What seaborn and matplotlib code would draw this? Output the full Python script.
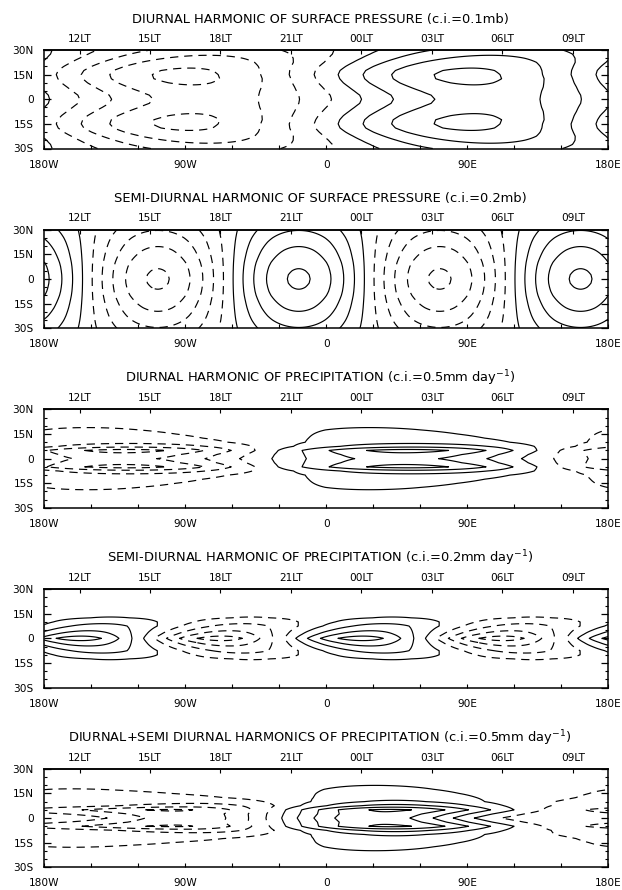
import numpy as np
import matplotlib
matplotlib.use("Agg")
import matplotlib.pyplot as plt
import seaborn as sns

sns.set_theme(style="ticks", rc={"axes.edgecolor": "black", "xtick.color": "black",
                                 "ytick.color": "black", "text.color": "black"})
plt.rcParams["font.family"] = ["DejaVu Sans"]

# Latitudes (deg, northern half) at which the harmonic profiles are tabulated;
# the southern half is the mirror image.
LAT_NODES = [0, 2.5, 5, 7.5, 10, 12.5, 15, 17.5, 20, 22.5, 25, 27.5, 30]

# Diurnal harmonic of surface pressure: amplitude (mb), longitude of maximum (deg)
PS_DIURNAL_AMP = [0.30, 0.305, 0.32, 0.34, 0.36, 0.375, 0.375, 0.365, 0.34, 0.31, 0.275, 0.24, 0.20]
PS_DIURNAL_LONMAX = [103, 102, 99, 96, 93, 91, 90, 91, 94, 98, 102, 106, 109.5]

# Semi-diurnal harmonic of surface pressure
PS_SEMI_AMP = [0.93, 0.925, 0.91, 0.89, 0.86, 0.82, 0.78, 0.74, 0.695, 0.65, 0.60, 0.545, 0.49]
PS_SEMI_LONMAX = [-17.5] * 13

# Diurnal harmonic of precipitation (mm/day)
PR_DIURNAL_AMP = [1.4, 1.6, 1.95, 1.1, 0.6, 0.45, 0.36, 0.29, 0.22, 0.16, 0.12, 0.09, 0.07]
PR_DIURNAL_LONMAX = [45, 48, 52, 56, 52, 45, 38, 30, 25, 22, 20, 20, 20]

# Semi-diurnal harmonic of precipitation (mm/day)
PR_SEMI_AMP = [0.80, 0.62, 0.48, 0.37, 0.25, 0.11, 0.06, 0.04, 0.03, 0.02, 0.02, 0.02, 0.02]
PR_SEMI_LONMAX = [22, 25, 29, 35, 39, 42, 42, 42, 42, 42, 42, 42, 42]

TITLES = [
    "DIURNAL HARMONIC OF SURFACE PRESSURE (c.i.=0.1mb)",
    "SEMI-DIURNAL HARMONIC OF SURFACE PRESSURE (c.i.=0.2mb)",
    "DIURNAL HARMONIC OF PRECIPITATION (c.i.=0.5mm day$^{-1}$)",
    "SEMI-DIURNAL HARMONIC OF PRECIPITATION (c.i.=0.2mm day$^{-1}$)",
    "DIURNAL+SEMI DIURNAL HARMONICS OF PRECIPITATION (c.i.=0.5mm day$^{-1}$)",
]
CONTOUR_INTERVALS = [0.1, 0.2, 0.5, 0.2, 0.5]

LON_TICKS = [-180, -90, 0, 90, 180]
LON_LABELS = ["180W", "90W", "0", "90E", "180E"]
LAT_TICKS = [30, 15, 0, -15, -30]
LAT_LABELS = ["30N", "15N", "0", "15S", "30S"]
LT_LONS = [-157.5, -112.5, -67.5, -22.5, 22.5, 67.5, 112.5, 157.5]
LT_LABELS = ["12LT", "15LT", "18LT", "21LT", "00LT", "03LT", "06LT", "09LT"]


def mirror(values, odd=False):
    v = np.asarray(values, dtype=float)
    south = -v[::-1] if odd else v[::-1]
    return np.concatenate([south, v[1:]])


lat = mirror(LAT_NODES, odd=True)
lon = np.arange(-180.0, 180.01, 1.0)


def harmonic(amp, lonmax, wavenumber):
    a = mirror(amp)[:, None]
    p = mirror(lonmax)[:, None]
    return a * np.cos(np.deg2rad(wavenumber * (lon[None, :] - p)))


pr1 = harmonic(PR_DIURNAL_AMP, PR_DIURNAL_LONMAX, 1)
pr2 = harmonic(PR_SEMI_AMP, PR_SEMI_LONMAX, 2)
fields = [
    harmonic(PS_DIURNAL_AMP, PS_DIURNAL_LONMAX, 1),
    harmonic(PS_SEMI_AMP, PS_SEMI_LONMAX, 2),
    pr1,
    pr2,
    pr1 + pr2,
]

W, H = 622, 890
fig = plt.figure(figsize=(W / 100, H / 100), dpi=100)
fig.patch.set_facecolor("white")

LEFT, WIDTH, TOP0, STEP, HEIGHT = 44.3, 563.7, 50.0, 179.7, 98.5
DASH = (0, (7, 5))

for i, (field, ci, title) in enumerate(zip(fields, CONTOUR_INTERVALS, TITLES)):
    top = TOP0 + STEP * i
    ax = fig.add_axes([LEFT / W, 1 - (top + HEIGHT) / H, WIDTH / W, HEIGHT / H])
    ax.set_facecolor("white")
    n = int(np.ceil(np.abs(field).max() / ci)) + 1
    levels = ci * (np.arange(-n, n) + 0.5)
    styles = [DASH if lv < 0 else "solid" for lv in levels]
    ax.contour(lon, lat, field, levels=levels, colors="black",
               linewidths=0.85, linestyles=styles)

    ax.set_xlim(-180, 180)
    ax.set_ylim(-30, 30)
    for s in ax.spines.values():
        s.set_linewidth(1.1)
        s.set_color("black")

    ax.set_xticks(LON_TICKS)
    ax.set_xticklabels(LON_LABELS)
    ax.set_xticks(np.arange(-180, 181, 30), minor=True)
    ax.set_yticks(LAT_TICKS)
    ax.set_yticklabels(LAT_LABELS)
    ax.set_yticks(np.arange(-30, 31, 5), minor=True)
    ax.tick_params(which="both", direction="in", top=False, right=True,
                   labelsize=7.6, colors="black")
    ax.tick_params(axis="y", which="major", length=5, width=0.9, pad=7.5)
    ax.tick_params(axis="y", which="minor", length=2.5, width=0.8)
    ax.tick_params(axis="x", which="both", length=2.8, width=0.8, pad=8)

    top_ax = ax.secondary_xaxis("top")
    top_ax.set_xticks(LT_LONS)
    top_ax.set_xticklabels(LT_LABELS)
    top_ax.tick_params(direction="in", length=2.8, width=0.8, pad=4.5,
                       labelsize=7.6, colors="black")
    top_ax.spines["top"].set_linewidth(1.1)

    fig.text(320 / W, 1 - (top - 31) / H, title, ha="center", va="center",
             fontsize=9.4)

fig.savefig("out.png", dpi=100, facecolor="white")
